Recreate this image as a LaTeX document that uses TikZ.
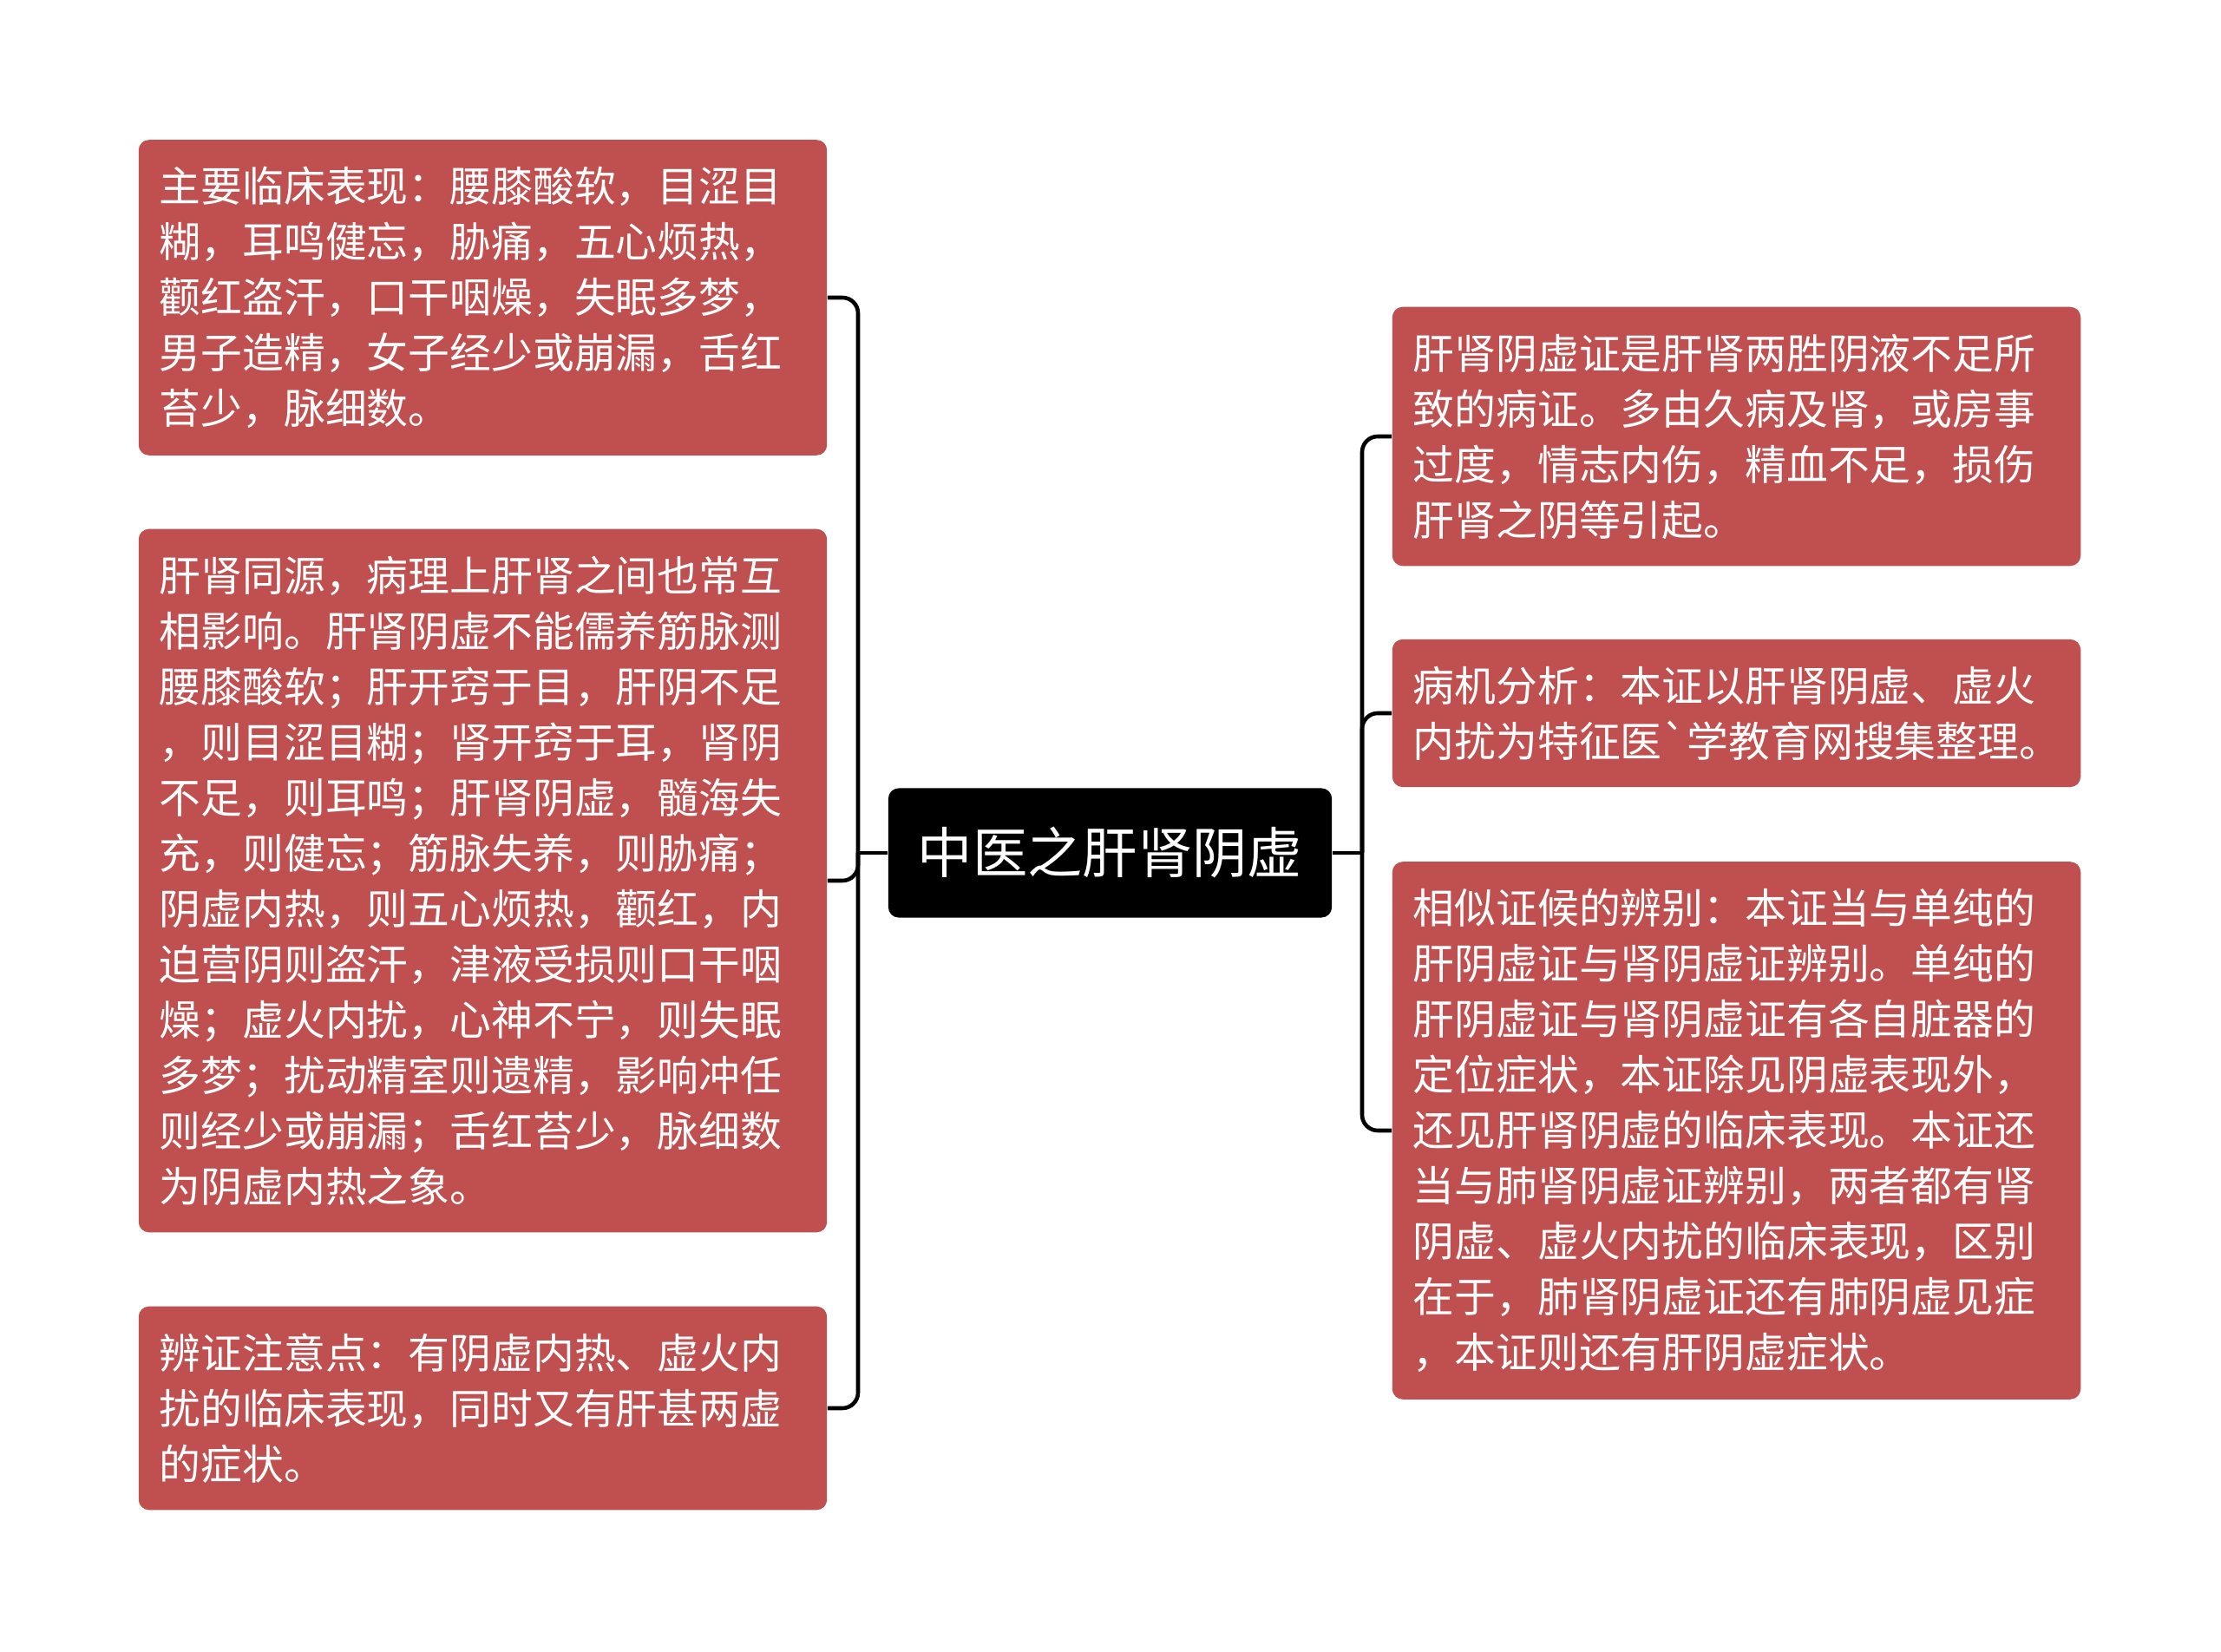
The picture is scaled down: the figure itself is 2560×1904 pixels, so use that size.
\documentclass[tikz,border=0pt]{standalone}
\usepackage{fontspec}
\newfontfamily\cjk{Noto Sans CJK SC}
\usetikzlibrary{positioning,calc}
\definecolor{BoxRed}{RGB}{192,79,79}
\tikzset{
  leaf/.style={fill=BoxRed,text=white,rounded corners=0.12cm,inner xsep=0.24cm,inner ysep=0.31cm,
    text width=7.45cm,align=left,font=\cjk\fontsize{13.6pt}{18.2pt}\selectfont},
  root/.style={fill=black,text=white,rounded corners=0.12cm,minimum width=5.11cm,
    minimum height=1.49cm,font=\cjk\fontsize{18pt}{22pt}\selectfont},
  link/.style={draw=black,line width=1.3pt,rounded corners=0.18cm},
}
\begin{document}
\begin{tikzpicture}[x=0.01cm,y=-0.01cm]
        \fill[white] (0,0) rectangle (2560,1904);
        \useasboundingbox (0,0) rectangle (2560,1904);
        \node[root] (main) at (1279.5,983) {中医之肝肾阴虚};
        \node[leaf] (l1) at (556.5,343) {主要临床表现：腰膝酸软，目涩目\\
          糊，耳鸣健忘，胁痛，五心烦热，\\
          颧红盗汗，口干咽燥，失眠多梦，\\
          男子造精，女子经少或崩漏，舌红\\
          苔少，脉细数。};
        \node[leaf] (l2) at (556.5,1015) {肝肾同源，病理上肝肾之间也常互\\
          相影响。肝肾阴虚不能儒养筋脉测\\
          腰膝酸软；肝开窍于目，肝阴不足\\
          ，则目涩目糊；肾开窍于耳，肾阴\\
          不足，则耳鸣；肝肾阴虚，髓海失\\
          充，则健忘；筋脉失养，则胁痛；\\
          阴虚内热，则五心烦热，颧红，内\\
          迫营阴则盗汗，津液受损则口干咽\\
          燥；虚火内扰，心神不宁，则失眠\\
          多梦；扰动精室则遗精，影响冲任\\
          则经少或崩漏；舌红苔少，脉细数\\
          为阴虚内热之象。};
        \node[leaf] (l3) at (556.5,1623) {辨证注意点：有阴虚内热、虚火内\\
          扰的临床表现，同时又有肝甚两虚\\
          的症状。};
        \node[leaf] (r1) at (2001.5,503) {肝肾阴虚证是肝肾两胜阴液不足所\\
          致的病证。多由久病及肾，或房事\\
          过度，情志内伤，精血不足，损伤\\
          肝肾之阴等引起。};
        \node[leaf] (r2) at (2001.5,822) {病机分析：本证以肝肾阴虚、虚火\\
          内扰为特征医`学教育网搜集整理。};
        \node[leaf] (r3) at (2001.5,1303) {相似证候的辨别：本证当与单纯的\\
          肝阴虚证与肾阴虚证辨别。单纯的\\
          肝阴虚证与肾阴虚证有各自脏器的\\
          定位症状，本证除见阴虚表现外，\\
          还见肝肾阴虚的临床表现。本证还\\
          当与肺肾阴虚证辨别，两者都有肾\\
          阴虚、虚火内扰的临床表现，区别\\
          在于，肺肾阴虚证还有肺阴虚见症\\
          ，本证则还有肝阴虚症状。};
        \coordinate (jl) at (989,983);
        \coordinate (jr) at (1570,983);
        \draw[link] (main.west) -- (jl);
        \draw[link] (main.east) -- (jr);
        \foreach \b in {l1,l2,l3} \draw[link] (jl) |- (\b.east);
        \foreach \b in {r1,r2,r3} \draw[link] (jr) |- (\b.west);
      \end{tikzpicture}
\end{document}
